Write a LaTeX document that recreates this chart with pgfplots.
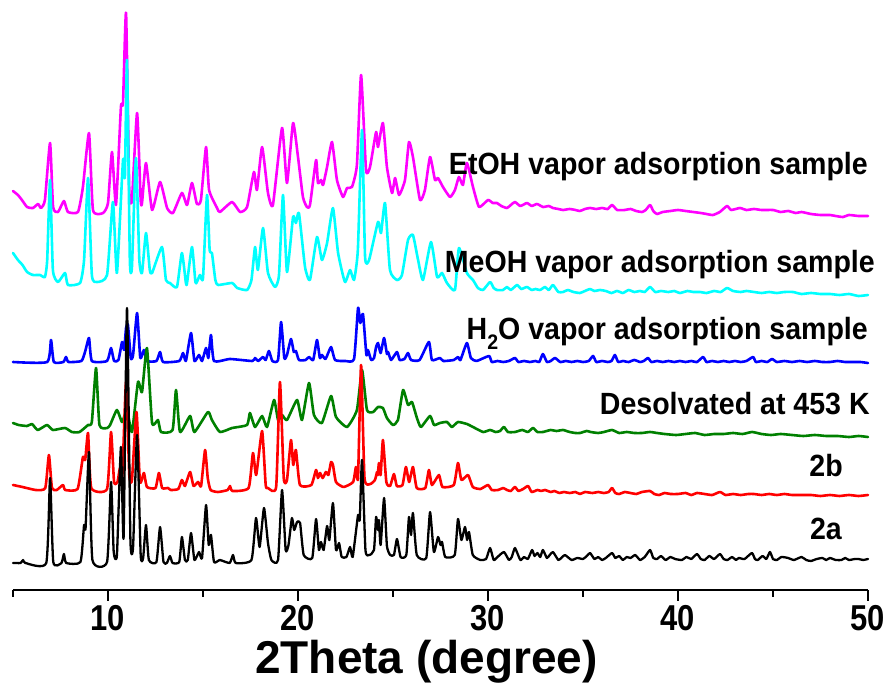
\documentclass[border=0pt]{standalone}
\usepackage{fontspec}
\setmainfont{Liberation Sans}
\newfontfamily\labfont[FakeStretch=0.93]{Liberation Sans Bold}
\newfontfamily\tickfont[FakeStretch=0.86]{Liberation Sans Bold}
\newfontfamily\titlefont{Liberation Sans Bold}
\usepackage{pgfplots}
\pgfplotsset{compat=1.18}

\definecolor{trMag}{RGB}{255,0,255}
\definecolor{trCyan}{RGB}{0,255,255}
\definecolor{trBlue}{RGB}{0,0,255}
\definecolor{trGreen}{RGB}{0,128,0}
\definecolor{trRed}{RGB}{255,0,0}

\begin{document}
\begin{tikzpicture}
\useasboundingbox (-13pt,-98pt) rectangle (882pt,590pt);
\begin{axis}[
  scale only axis, width=855pt, height=590pt,
  xmin=5, xmax=50, ymin=0, ymax=590,
  axis x line=bottom, axis y line=none,
  x axis line style={-, line width=2.8pt},
  xtick={10,20,30,40,50}, minor xtick={5,15,25,35,45},
  tick align=outside, major tick length=11pt, minor tick length=7pt,
  every tick/.style={black, line width=2.6pt},
  /pgf/number format/assume math mode=true,
  xticklabel style={font=\tickfont\fontsize{36}{36}\selectfont, anchor=north, yshift=-1pt},
  xlabel={2Theta (degree)},
  every axis x label/.style={at={(axis description cs:0.5,0)}, anchor=north, yshift=-47pt, xshift=-14pt,
    font=\titlefont\fontsize{46}{46}\selectfont},
  clip=false,
  every axis plot/.append style={smooth, tension=0.3, line join=round, line cap=round},
]
% EtOH vapor adsorption sample
\addplot[trMag, line width=2.6pt] coordinates {(5.00,399) (5.26,395) (5.47,390) (5.74,383) (6.05,382) (6.32,386) (6.47,382) (6.68,390) (6.95,447) (7.11,383) (7.37,378) (7.68,389) (7.89,378) (8.42,378) (8.68,403) (9.00,457) (9.21,380) (9.74,377) (10.00,387) (10.21,438) (10.42,385) (10.68,483) (10.79,487) (10.95,577) (11.12,400) (11.26,390) (11.53,477) (11.72,390) (11.79,387) (12.00,427) (12.32,380) (12.74,408) (13.11,382) (13.42,377) (13.89,397) (14.16,385) (14.42,407) (14.68,386) (14.89,390) (15.16,443) (15.32,400) (15.74,382) (15.89,378) (16.53,388) (16.95,378) (17.32,383) (17.68,418) (17.84,400) (18.11,443) (18.42,397) (18.68,385) (19.16,462) (19.42,407) (19.74,467) (20.00,433) (20.26,393) (20.47,383) (20.63,385) (20.95,430) (21.05,407) (21.21,410) (21.32,405) (21.53,423) (21.79,448) (22.05,410) (22.37,393) (22.58,402) (22.84,403) (23.10,425) (23.32,515) (23.58,420) (23.79,423) (24.11,458) (24.21,443) (24.47,467) (24.68,423) (24.95,397) (25.11,412) (25.32,395) (25.63,410) (25.84,448) (26.05,433) (26.42,390) (26.68,400) (26.95,433) (27.21,410) (27.37,412) (27.63,403) (28.00,393) (28.26,400) (28.47,413) (28.68,405) (28.89,427) (29.21,403) (29.53,383) (30.00,390) (30.25,387) (30.47,387) (30.70,384) (31.00,382) (31.20,385) (31.42,388) (31.70,384) (32.05,387) (32.30,384) (32.58,386) (32.90,383) (33.20,384) (33.42,382) (33.70,381) (33.95,380) (34.30,381) (34.60,380) (34.84,379) (35.10,381) (35.37,382) (35.70,381) (36.00,382) (36.30,381) (36.53,385) (36.80,380) (37.20,380) (37.50,381) (37.80,379) (38.11,378) (38.30,380) (38.53,385) (38.70,379) (38.89,376) (39.20,378) (39.60,379) (40.00,380) (40.40,379) (40.80,378) (41.20,377) (41.50,376) (41.84,375) (42.20,378) (42.58,384) (42.80,380) (43.26,382) (43.60,380) (44.00,381) (44.40,380) (45.00,380) (45.40,378) (45.80,379) (46.20,377) (46.50,378) (47.00,376) (47.50,375) (48.00,375) (48.30,374) (48.68,373) (49.00,375) (49.50,374) (50.00,374)};
% MeOH vapor adsorption sample
\addplot[trCyan, line width=2.6pt] coordinates {(5.00,337) (5.26,330) (5.50,325) (5.74,318) (6.05,315) (6.42,315) (6.68,313) (6.80,330) (6.95,410) (7.10,320) (7.37,308) (7.74,317) (7.89,305) (8.53,307) (8.74,330) (8.95,412) (9.15,315) (9.42,308) (9.95,315) (10.26,388) (10.47,317) (10.79,430) (10.89,413) (11.00,530) (11.15,330) (11.26,323) (11.47,432) (11.65,330) (11.79,317) (12.00,357) (12.20,320) (12.32,317) (12.84,343) (13.05,310) (13.26,307) (13.63,303) (13.89,337) (14.10,307) (14.16,307) (14.42,343) (14.60,308) (14.68,308) (14.84,315) (15.00,312) (15.21,395) (15.35,340) (15.47,337) (15.65,310) (15.79,305) (16.53,307) (16.80,302) (17.32,300) (17.55,310) (17.74,343) (17.89,320) (18.16,362) (18.42,317) (18.79,303) (19.00,315) (19.21,395) (19.42,318) (19.74,373) (19.89,367) (20.05,377) (20.37,323) (20.63,310) (21.00,353) (21.26,330) (21.53,347) (21.84,382) (22.11,337) (22.47,308) (22.74,320) (22.95,310) (23.15,340) (23.37,460) (23.53,333) (23.74,330) (24.21,368) (24.37,357) (24.58,387) (24.84,320) (25.21,310) (25.47,315) (25.79,350) (26.05,355) (26.32,330) (26.58,310) (27.00,348) (27.32,313) (27.58,317) (27.84,307) (28.26,300) (28.47,342) (28.89,317) (29.21,310) (29.47,302) (29.74,300) (30.11,308) (30.30,302) (30.47,300) (30.79,300) (31.00,303) (31.20,300) (31.53,305) (31.75,301) (32.05,303) (32.30,300) (32.50,301) (32.74,300) (33.00,303) (33.20,300) (33.42,305) (33.70,298) (33.95,298) (34.20,300) (34.50,298) (34.84,297) (35.10,299) (35.37,301) (35.60,299) (35.90,300) (36.20,299) (36.50,297) (36.79,299) (37.10,297) (37.40,300) (37.70,298) (38.00,299) (38.25,298) (38.53,303) (38.80,298) (39.10,299) (39.50,298) (39.80,299) (40.10,297) (40.50,299) (40.80,298) (41.16,298) (41.50,297) (41.90,299) (42.25,298) (42.58,302) (42.90,299) (43.30,298) (43.60,299) (44.00,298) (44.40,297) (44.80,298) (45.20,297) (45.60,298) (46.05,298) (46.50,296) (47.00,297) (47.50,296) (48.00,296) (48.50,295) (49.00,296) (49.50,294) (50.00,295)};
% H2O vapor adsorption sample
\addplot[trBlue, line width=2.6pt] coordinates {(5.00,228) (6.80,228) (7.00,250) (7.15,228) (7.65,228) (7.79,233) (7.92,228) (8.60,229) (8.79,238) (9.00,252) (9.15,229) (9.95,229) (10.16,242) (10.32,229) (10.55,230) (10.74,248) (10.85,240) (10.95,262) (11.05,265) (11.20,232) (11.32,235) (11.53,277) (11.70,232) (11.89,240) (12.05,229) (12.55,229) (12.74,238) (12.90,228) (13.75,229) (13.95,237) (14.10,229) (14.37,257) (14.55,229) (14.79,235) (14.95,229) (15.16,242) (15.28,232) (15.42,255) (15.58,229) (16.42,231) (17.60,229) (17.74,232) (17.90,229) (18.16,233) (18.30,230) (18.47,239) (18.65,229) (18.95,230) (19.11,268) (19.28,232) (19.42,235) (19.63,251) (19.78,238) (19.89,239) (20.05,230) (20.40,230) (20.58,233) (20.80,230) (21.00,250) (21.15,232) (21.26,235) (21.45,231) (21.74,243) (21.95,230) (22.50,229) (22.95,231) (23.16,282) (23.28,267) (23.42,276) (23.60,235) (23.68,240) (23.85,230) (24.00,232) (24.11,243) (24.21,247) (24.35,237) (24.53,252) (24.68,236) (24.74,238) (24.90,230) (25.21,238) (25.35,230) (25.60,231) (25.79,237) (25.95,230) (26.40,230) (26.89,248) (27.05,230) (27.47,232) (27.65,229) (28.20,230) (28.42,233) (28.55,230) (28.89,247) (29.10,232) (29.40,229) (30.05,234) (30.20,228) (30.50,229) (30.80,228) (31.10,229) (31.42,232) (31.60,228) (31.90,229) (32.20,228) (32.50,229) (32.70,228) (32.89,236) (33.10,228) (33.30,229) (33.53,232) (33.80,228) (34.10,229) (34.40,228) (34.70,229) (35.00,228) (35.30,229) (35.53,234) (35.70,228) (36.00,229) (36.30,228) (36.50,229) (36.68,235) (36.85,228) (37.10,229) (37.40,228) (37.70,230) (38.00,228) (38.20,229) (38.42,232) (38.60,228) (38.90,229) (39.20,228) (39.50,229) (39.80,228) (40.10,229) (40.40,228) (40.70,229) (41.00,228) (41.32,233) (41.50,228) (41.80,229) (42.10,228) (42.40,229) (42.70,228) (43.00,229) (43.30,228) (43.60,229) (43.95,233) (44.10,228) (44.40,229) (44.70,228) (44.95,231) (45.20,228) (45.60,229) (46.00,228) (46.40,229) (46.80,228) (47.20,229) (47.60,228) (48.00,228) (48.40,229) (48.80,228) (49.20,228) (49.60,228) (50.00,227)};
% Desolvated at 453 K
\addplot[trGreen, line width=2.6pt] coordinates {(5.00,167) (5.30,165) (5.74,164) (6.00,166) (6.30,160) (6.79,165) (7.10,160) (7.74,162) (8.10,158) (8.50,158) (8.95,165) (9.15,168) (9.37,222) (9.55,165) (9.95,162) (10.11,165) (10.47,180) (10.74,168) (11.00,180) (11.26,158) (11.58,208) (11.79,198) (12.05,242) (12.32,167) (12.63,170) (12.79,158) (13.40,160) (13.58,200) (13.79,158) (14.32,174) (14.55,158) (15.26,178) (15.47,170) (15.89,158) (16.53,162) (17.32,165) (17.47,177) (17.74,163) (18.11,174) (18.37,163) (18.74,190) (18.95,170) (19.16,175) (19.42,170) (19.95,190) (20.21,170) (20.58,207) (20.84,175) (21.26,167) (21.74,194) (22.00,173) (22.58,163) (23.10,180) (23.37,220) (23.63,180) (23.95,178) (24.21,183) (24.47,182) (24.68,172) (25.00,165) (25.26,170) (25.53,200) (25.79,185) (26.00,188) (26.26,172) (26.47,163) (26.95,174) (27.16,165) (27.47,167) (27.84,168) (28.10,163) (28.42,168) (28.89,166) (29.21,163) (29.74,158) (30.11,160) (30.40,158) (30.63,159) (30.84,163) (31.05,158) (31.42,158) (31.80,160) (32.10,158) (32.37,162) (32.60,158) (32.89,158) (33.30,160) (33.60,159) (33.95,160) (34.30,158) (34.60,157) (34.84,157) (35.20,159) (35.40,158) (35.80,157) (36.10,158) (36.53,160) (36.90,157) (37.30,158) (37.70,157) (38.10,157) (38.53,158) (38.90,157) (39.30,156) (39.90,155) (40.40,156) (40.90,157) (41.40,155) (41.90,156) (42.40,156) (42.90,157) (43.40,156) (43.90,158) (44.40,156) (44.90,155) (45.40,156) (46.00,155) (46.60,154) (47.20,155) (47.80,154) (48.40,154) (49.00,153) (49.50,154) (50.00,153)};
% 2b
\addplot[trRed, line width=2.6pt] coordinates {(5.00,105) (5.50,103) (6.20,100) (6.70,102) (6.89,135) (7.05,102) (7.30,100) (7.63,105) (7.75,100) (8.40,101) (8.68,133) (8.80,130) (8.95,157) (9.12,102) (9.95,101) (10.16,158) (10.32,108) (10.50,108) (10.63,122) (10.75,112) (10.95,208) (11.12,115) (11.26,110) (11.50,178) (11.68,108) (11.89,117) (12.05,103) (12.50,102) (12.68,117) (12.85,102) (13.16,102) (13.30,100) (13.70,101) (13.89,110) (14.05,104) (14.32,118) (14.50,104) (14.74,108) (14.90,104) (15.11,140) (15.25,112) (15.40,100) (15.79,98) (16.30,100) (16.42,104) (16.55,99) (17.40,102) (17.63,137) (17.80,115) (18.11,159) (18.30,105) (18.42,102) (18.85,103) (19.05,208) (19.25,112) (19.42,110) (19.63,150) (19.75,125) (19.89,140) (20.10,105) (20.70,105) (20.95,120) (21.05,112) (21.16,117) (21.30,112) (21.47,118) (21.60,115) (21.74,128) (21.84,125) (22.00,108) (22.40,103) (22.90,108) (23.05,123) (23.16,112) (23.32,225) (23.50,112) (23.80,106) (24.05,110) (24.16,118) (24.20,115) (24.26,127) (24.35,115) (24.47,150) (24.65,108) (24.85,104) (25.05,116) (25.20,104) (25.50,105) (25.68,123) (25.85,108) (26.05,123) (26.25,102) (26.70,102) (26.89,120) (27.05,105) (27.42,115) (27.60,103) (28.20,105) (28.42,127) (28.60,110) (28.95,115) (29.20,103) (29.60,101) (30.00,105) (30.20,100) (30.53,100) (30.80,102) (31.00,100) (31.20,99) (31.42,103) (31.60,99) (31.85,101) (32.11,104) (32.30,98) (32.60,100) (32.80,99) (33.00,100) (33.30,98) (33.50,99) (33.75,97) (34.00,98) (34.30,97) (34.60,98) (34.84,96) (35.10,98) (35.50,97) (35.80,98) (36.10,97) (36.35,98) (36.53,102) (36.70,97) (36.90,96) (37.20,98) (37.50,97) (37.80,96) (38.10,98) (38.53,99) (38.75,96) (39.00,95) (39.30,97) (39.60,96) (40.00,96) (40.40,97) (40.70,95) (41.00,97) (41.40,96) (41.80,95) (42.21,98) (42.50,95) (42.90,96) (43.30,95) (43.70,96) (44.00,96) (44.40,95) (44.80,96) (45.20,95) (45.60,96) (46.00,95) (46.50,95) (47.00,95) (47.50,94) (48.00,95) (48.50,94) (49.00,95) (49.50,94) (50.00,95)};
% 2a
\addplot[black, line width=2.3pt] coordinates {(5.00,27) (5.40,27) (5.53,30) (5.65,27) (6.75,27) (6.95,112) (7.12,28) (7.55,27) (7.68,36) (7.80,27) (8.55,28) (8.74,65) (8.82,62) (9.00,138) (9.18,30) (9.95,28) (10.16,108) (10.30,38) (10.47,35) (10.68,143) (10.82,52) (11.00,282) (11.18,50) (11.32,43) (11.53,155) (11.72,35) (11.85,32) (12.00,65) (12.15,30) (12.55,28) (12.74,63) (12.92,28) (13.10,27) (13.26,34) (13.40,27) (13.75,28) (13.89,53) (14.05,30) (14.20,30) (14.37,57) (14.55,30) (14.79,38) (14.95,32) (15.16,85) (15.30,45) (15.42,55) (15.58,28) (15.89,30) (16.40,27) (16.58,35) (16.72,27) (17.55,30) (17.79,72) (17.98,43) (18.21,82) (18.42,47) (18.60,30) (18.95,30) (19.16,100) (19.35,40) (19.50,45) (19.68,72) (19.80,60) (19.95,68) (20.11,67) (20.30,35) (20.75,32) (20.95,71) (21.10,40) (21.21,48) (21.35,40) (21.53,64) (21.65,50) (21.84,87) (22.00,40) (22.16,47) (22.30,33) (22.55,33) (22.74,43) (22.88,33) (23.16,75) (23.25,70) (23.37,130) (23.55,40) (23.75,35) (24.00,40) (24.11,73) (24.21,60) (24.26,70) (24.35,45) (24.53,92) (24.68,44) (24.85,35) (25.05,35) (25.21,51) (25.40,33) (25.70,35) (25.84,73) (25.95,55) (26.05,77) (26.25,35) (26.75,32) (26.95,78) (27.15,38) (27.37,53) (27.50,45) (27.58,48) (27.75,33) (28.25,35) (28.42,71) (28.60,50) (28.79,63) (28.90,50) (29.00,58) (29.20,35) (29.60,30) (29.90,31) (30.11,42) (30.30,30) (30.50,33) (30.84,38) (31.10,30) (31.25,33) (31.42,42) (31.70,30) (31.90,33) (32.10,31) (32.32,40) (32.45,34) (32.60,37) (32.75,33) (32.89,40) (33.10,32) (33.25,35) (33.42,38) (33.70,30) (33.85,32) (34.05,35) (34.40,30) (34.70,32) (35.00,31) (35.20,34) (35.37,37) (35.60,31) (35.80,33) (36.00,30) (36.20,32) (36.53,37) (36.70,32) (36.90,34) (37.10,30) (37.30,33) (37.50,32) (37.75,35) (38.00,30) (38.25,33) (38.53,40) (38.70,32) (38.90,31) (39.10,34) (39.35,30) (39.60,33) (39.85,31) (40.20,30) (40.45,33) (40.70,31) (41.00,36) (41.20,31) (41.40,30) (41.65,34) (41.90,31) (42.21,36) (42.40,31) (42.60,30) (42.85,33) (43.05,30) (43.20,32) (43.50,31) (43.89,37) (44.05,31) (44.20,30) (44.45,34) (44.65,31) (44.84,38) (45.00,31) (45.20,30) (45.45,33) (45.80,32) (46.10,30) (46.50,33) (46.75,30) (47.00,29) (47.30,31) (47.60,32) (47.80,30) (48.00,32) (48.30,30) (48.60,30) (48.80,32) (49.00,30) (49.30,31) (49.50,31) (49.75,30) (50.00,31)};

\begin{scope}[every node/.style={anchor=base east, inner sep=0pt, font=\labfont\fontsize{30.7}{30.7}\selectfont}]
\node at (axis cs:50.00,415) {EtOH vapor adsorption sample};
\node at (axis cs:50.37,317) {MeOH vapor adsorption sample};
\node at (axis cs:50.00,250) {H\raisebox{-0.32em}{\fontsize{21}{21}\selectfont 2}O vapor adsorption sample};
\node at (axis cs:50.10,175) {Desolvated at 453 K};
\node at (axis cs:48.68,113) {2b};
\node at (axis cs:48.63,50) {2a};
\end{scope}
\end{axis}
\end{tikzpicture}
\end{document}
